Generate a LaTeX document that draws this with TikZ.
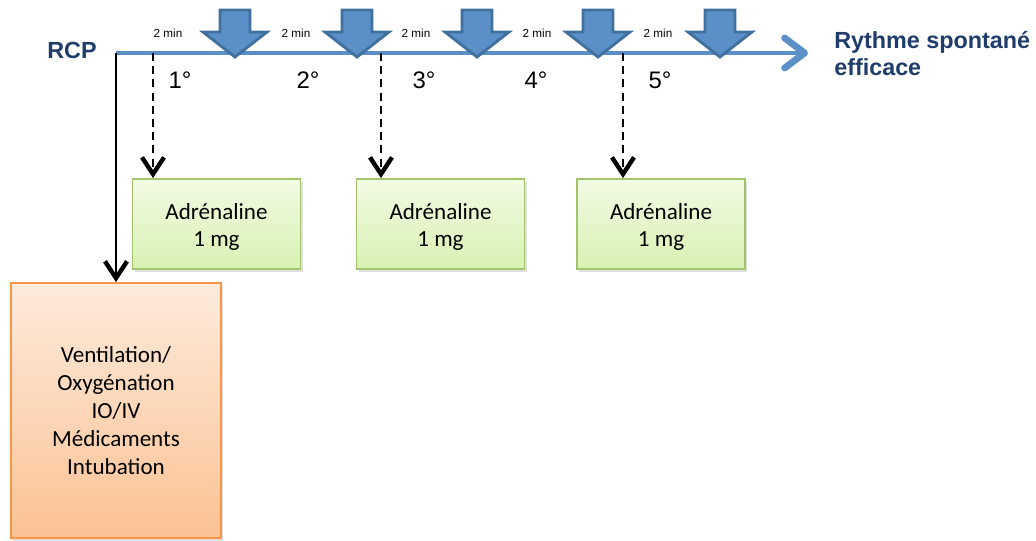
\documentclass[tikz,border=0pt]{standalone}
\usepackage{fontspec}
\setmainfont{Carlito}
\newfontfamily\arialfont{Liberation Sans}
\usepackage{tikz}
\usetikzlibrary{calc, arrows.meta, shadows}
\definecolor{sblue}{HTML}{5B8FC7}
\definecolor{sbluedark}{HTML}{41709F}
\definecolor{snavy}{HTML}{1F3D6B}
\definecolor{sgreentop}{HTML}{F2FBE4}
\definecolor{sgreenbot}{HTML}{D8F1B2}
\definecolor{sgreenline}{HTML}{A3C46A}
\definecolor{sorangetop}{HTML}{FDEBDC}
\definecolor{sorangebot}{HTML}{FBC293}
\definecolor{sorangeline}{HTML}{F79646}
\newcommand{\boitefont}{\fontsize{16.4}{19.6}\selectfont}
\newcommand{\degfont}{\arialfont\fontsize{17}{20}\selectfont}
\newcommand{\minfont}{\arialfont\fontsize{8.3}{10}\selectfont}
\newcommand{\titrefont}{\arialfont\bfseries\fontsize{16.6}{19.2}\selectfont}

\begin{document}
\begin{tikzpicture}[x=0.025cm, y=-0.025cm,
    ADR/.style={rectangle, draw=sgreenline, line width=1.2pt, top color=sgreentop, bottom color=sgreenbot, minimum width=4.2cm, minimum height=2.25cm, inner sep=0pt, font=\boitefont, drop shadow={shadow xshift=1.5pt, shadow yshift=-2pt, opacity=0.25}},
    SOIN/.style={rectangle, draw=sorangeline, line width=1.2pt, top color=sorangetop, bottom color=sorangebot, minimum width=5.25cm, minimum height=6.375cm, inner sep=0pt, font=\boitefont, drop shadow={shadow xshift=1.5pt, shadow yshift=-2pt, opacity=0.25}},
    FLECHE/.style={sbluedark, line width=2pt, fill=sblue, line join=miter},
    LIEN/.style={-{Straight Barb[length=0.42cm, width=0.55cm, line width=0.11cm]}}
    ]
        \useasboundingbox (0,0) rectangle (1036,540);
        % ligne du temps
        \coordinate (T0) at (116,53);
        \coordinate (TE) at (808,53);
        \coordinate (T1) at (153,53);
        \coordinate (T2) at (381,53);
        \coordinate (T3) at (623,53);
        \draw[sblue, line width=0.1cm, -{Straight Barb[length=0.5cm, width=0.75cm, line width=0.17cm, round]}] (T0) -- (TE);
        \node[text=snavy, font=\titrefont, inner sep=0pt] (RCP) at (72,50) {RCP};
        \node[text=snavy, font=\titrefont, inner sep=0pt, align=left, anchor=west] (RSE) at (834,54) {Rythme spontané\\efficace};
        % chocs
        \foreach \x in {235,357,477,598,720}
            \draw[FLECHE] (\x-15,10) -- (\x+15,10) -- (\x+15,32) -- (\x+32,32) -- (\x,57) -- (\x-32,32) -- (\x-15,32) -- cycle;
        \foreach \x in {168,296,416,537,658}
            \node[font=\minfont, inner sep=0pt] at (\x,33) {2 min};
        \node[font=\degfont] (D1) at (180,80) {1°};
        \node[font=\degfont] (D2) at (308,80) {2°};
        \node[font=\degfont] (D3) at (424,80) {3°};
        \node[font=\degfont] (D4) at (536,80) {4°};
        \node[font=\degfont] (D5) at (660,80) {5°};
        % boites
        \node[ADR] (A1) at (216.5,224) {\parbox{4cm}{\centering\vspace*{4pt}Adrénaline\\1 mg}};
        \node[ADR] (A2) at (440.5,224) {\parbox{4cm}{\centering\vspace*{4pt}Adrénaline\\1 mg}};
        \node[ADR] (A3) at (661,224) {\parbox{4cm}{\centering\vspace*{4pt}Adrénaline\\1 mg}};
        \node[SOIN] (V1) at (116,410.5) {\parbox{5cm}{\centering\fontsize{16.4}{20}\selectfont Ventilation/\\Oxygénation\\IO/IV\\Médicaments\\Intubation}};
        % fleches
        \draw[LIEN, line width=1pt] (T0) -- (V1.north);
        \draw[LIEN, line width=1.2pt, dash pattern=on 0.2cm off 0.13cm] (T1) -- (T1 |- A1.north);
        \draw[LIEN, line width=1.2pt, dash pattern=on 0.2cm off 0.13cm] (T2) -- (T2 |- A2.north);
        \draw[LIEN, line width=1.2pt, dash pattern=on 0.2cm off 0.13cm] (T3) -- (T3 |- A3.north);
    \end{tikzpicture}
\end{document}
